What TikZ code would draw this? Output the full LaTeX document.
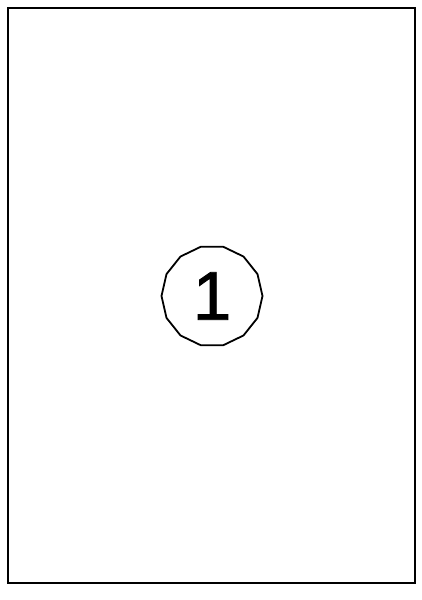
\documentclass[tikz,border=0pt]{standalone}
\usepackage{fontspec}
\setmainfont{Liberation Sans}
\newfontfamily\digitfont[FakeBold=1.3]{Liberation Sans}
\usetikzlibrary{shapes.geometric}
\begin{document}
\begin{tikzpicture}[x=1pt,y=1pt,
  frame/.style={draw=black,line width=2pt},
  label/.style={regular polygon,regular polygon sides=14,draw=black,line width=1.8pt,minimum size=101pt,inner sep=0pt,font=\digitfont\fontsize{69}{69}\selectfont}]
\useasboundingbox (0,0) rectangle (422,600);
\draw[frame] (8,17) rectangle (415,592);
\node[label] (n1) at (212,304) {1};
\end{tikzpicture}
\end{document}
